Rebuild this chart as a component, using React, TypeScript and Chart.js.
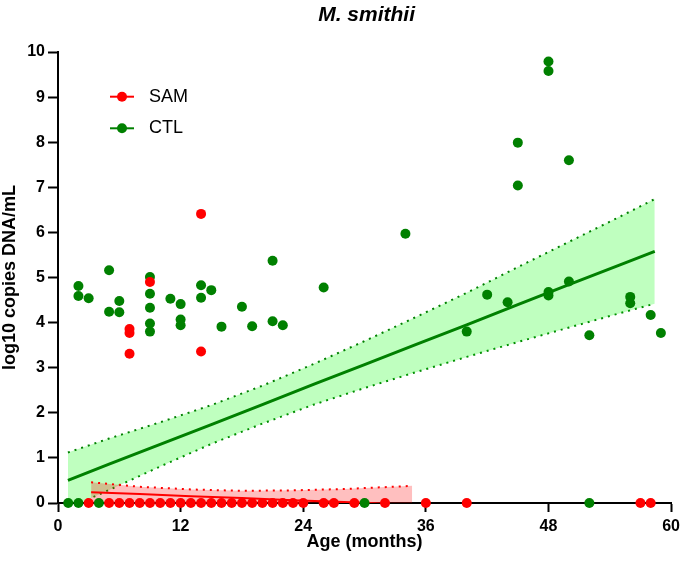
import React, { useEffect, useRef } from "react";
import { Chart, registerables } from "chart.js";

Chart.register(...registerables);

// ---- Data ----
const titleText = "M. smithii";
const xTitle = "Age (months)";
const yTitle = "log10 copies DNA/mL";
const xTicks = [0, 12, 24, 36, 48, 60];
const yTicks = [0, 1, 2, 3, 4, 5, 6, 7, 8, 9, 10];

// SAM (red) observations
const samX = [3, 5, 6, 7, 8, 9, 10, 11, 12, 13, 14, 15, 16, 17, 18, 19, 20, 21, 22, 23, 24, 26, 27, 29, 32, 36, 40, 57, 58, 7, 7, 7, 9, 14, 14];
const samY = [0, 0, 0, 0, 0, 0, 0, 0, 0, 0, 0, 0, 0, 0, 0, 0, 0, 0, 0, 0, 0, 0, 0, 0, 0, 0, 0, 0, 0, 3.86, 3.77, 3.31, 4.9, 6.41, 3.36];

// CTL (green) observations
const ctlX = [1, 2, 4, 30, 52, 2, 2, 3, 5, 5, 6, 6, 9, 9, 9, 9, 9, 11, 12, 12, 12, 14, 14, 15, 16, 18, 19, 21, 21, 22, 26, 34, 40, 42, 44, 45, 45, 48, 48, 48, 48, 50, 50, 52, 56, 56, 58, 59];
const ctlY = [0, 0, 0, 0, 0, 4.81, 4.59, 4.54, 5.16, 4.24, 4.48, 4.23, 5.01, 4.64, 4.33, 3.98, 3.8, 4.53, 4.41, 4.07, 3.94, 4.83, 4.55, 4.72, 3.91, 4.35, 3.92, 5.37, 4.03, 3.94, 4.78, 5.97, 3.8, 4.62, 4.45, 7.99, 7.04, 9.79, 9.58, 4.68, 4.6, 7.6, 4.91, 3.72, 4.57, 4.43, 4.17, 3.77];

// CTL regression line and confidence band
const ctlFitX = [0.97, 5, 10, 15, 20, 25, 30, 35, 40, 45, 50, 55, 58.4];
const ctlFitY = [0.5, 0.86, 1.3, 1.74, 2.18, 2.63, 3.07, 3.51, 3.95, 4.4, 4.84, 5.28, 5.58];
const ctlUpper = [1.12, 1.43, 1.79, 2.17, 2.6, 3.08, 3.59, 4.12, 4.66, 5.23, 5.79, 6.35, 6.74];
const ctlLower = [-0.12, 0.29, 0.81, 1.31, 1.76, 2.18, 2.55, 2.9, 3.24, 3.57, 3.89, 4.21, 4.42];

// SAM regression line and confidence band
const samFitX = [3.24, 8, 13, 18, 23, 28, 34.66];
const samFitY = [0.24, 0.2, 0.15, 0.11, 0.06, 0.02, -0.04];
const samUpper = [0.46, 0.36, 0.3, 0.27, 0.28, 0.31, 0.38];
const samLower = [0.02, 0.04, 0.0, -0.05, -0.16, -0.27, -0.46];

const legendItems = [
  { label: "SAM", color: "#ff0000" },
  { label: "CTL", color: "#008000" },
];

const FONT = '"Liberation Sans", Arial, Helvetica, sans-serif';

const pts = (xs: number[], ys: number[]) => xs.map((x, i) => ({ x, y: ys[i] }));

const textPlugin = {
  id: "customText",
  afterDraw(chart: any) {
    const { ctx, chartArea } = chart;
    const cx = (chartArea.left + chartArea.right) / 2;
    const cy = (chartArea.top + chartArea.bottom) / 2;
    ctx.save();
    ctx.fillStyle = "#000";
    ctx.textAlign = "center";
    ctx.textBaseline = "alphabetic";
    ctx.font = `italic bold 21px ${FONT}`;
    ctx.fillText(titleText, cx + 2, 21);
    ctx.font = `bold 18px ${FONT}`;
    ctx.fillText(xTitle, cx, 547);
    ctx.save();
    ctx.translate(15, cy);
    ctx.rotate(-Math.PI / 2);
    ctx.fillText(yTitle, 0, 0);
    ctx.restore();

    // legend
    const lx0 = 110, lx1 = 134, ly0 = 96.7, dy = 31.6;
    legendItems.forEach((it, i) => {
      const y = ly0 + i * dy;
      ctx.strokeStyle = it.color;
      ctx.lineWidth = 2;
      ctx.beginPath();
      ctx.moveTo(lx0, y);
      ctx.lineTo(lx1, y);
      ctx.stroke();
      ctx.fillStyle = it.color;
      ctx.beginPath();
      ctx.arc((lx0 + lx1) / 2, y, 5, 0, Math.PI * 2);
      ctx.fill();
      ctx.fillStyle = "#000";
      ctx.font = `18px ${FONT}`;
      ctx.textAlign = "left";
      ctx.textBaseline = "middle";
      ctx.fillText(it.label, 149, y);
    });
    ctx.restore();
  },
};

export default function App() {
  const ref = useRef<HTMLCanvasElement>(null);

  useEffect(() => {
    if (!ref.current) return;
    const green = "#008000";
    const red = "#ff0000";
    const chart = new Chart(ref.current, {
      type: "scatter",
      data: {
        datasets: [
          {
            type: "line",
            label: "ctlUpper",
            data: pts(ctlFitX, ctlUpper),
            borderColor: green,
            borderWidth: 2,
            borderDash: [2, 5],
            pointRadius: 0,
            fill: "+1",
            backgroundColor: "rgba(0,255,0,0.25)",
            order: 4,
            clip: 0,
          } as any,
          {
            type: "line",
            label: "ctlLower",
            data: pts(ctlFitX, ctlLower),
            borderColor: green,
            borderWidth: 2,
            borderDash: [2, 5],
            pointRadius: 0,
            fill: false,
            order: 4,
            clip: 0,
          } as any,
          {
            type: "line",
            label: "ctlFit",
            data: pts(ctlFitX, ctlFitY),
            borderColor: green,
            borderWidth: 3,
            pointRadius: 0,
            fill: false,
            order: 1,
            clip: 0,
          } as any,
          {
            type: "line",
            label: "samUpper",
            data: pts(samFitX, samUpper),
            borderColor: red,
            borderWidth: 2,
            borderDash: [2, 5],
            pointRadius: 0,
            fill: "+1",
            backgroundColor: "rgba(255,0,0,0.25)",
            order: 2,
            clip: 0,
          } as any,
          {
            type: "line",
            label: "samLower",
            data: pts(samFitX, samLower),
            borderWidth: 0,
            borderColor: "rgba(0,0,0,0)",
            pointRadius: 0,
            fill: false,
            order: 2,
            clip: 0,
          } as any,
          {
            type: "line",
            label: "samFit",
            data: pts(samFitX, samFitY),
            borderColor: red,
            borderWidth: 2,
            pointRadius: 0,
            fill: false,
            order: 1,
            clip: 0,
          } as any,
          {
            label: "SAM",
            data: pts(samX, samY),
            pointRadius: 5,
            pointBackgroundColor: red,
            pointBorderColor: red,
            pointBorderWidth: 0,
            order: 0,
            clip: false,
          } as any,
          {
            label: "CTL",
            data: pts(ctlX, ctlY),
            pointRadius: 5,
            pointBackgroundColor: green,
            pointBorderColor: green,
            pointBorderWidth: 0,
            order: 0,
            clip: false,
          } as any,
        ],
      },
      options: {
        responsive: false,
        animation: false,
        events: [],
        layout: { padding: { left: 0, right: 11, top: 52, bottom: 0 } },
        plugins: {
          legend: { display: false },
          tooltip: { enabled: false },
          title: { display: false },
        },
        scales: {
          x: {
            type: "linear",
            min: 0,
            max: 60,
            afterBuildTicks: (scale: any) => {
              scale.ticks = xTicks.map((v) => ({ value: v }));
            },
            afterFit: (scale: any) => {
              scale.height = 64;
            },
            ticks: {
              color: "#000",
              font: { family: FONT, size: 16, weight: "bold" },
              padding: 5,
              maxRotation: 0,
            },
            grid: {
              display: true,
              drawOnChartArea: false,
              drawTicks: true,
              tickLength: 9,
              tickWidth: 2,
              tickColor: "#000",
            },
            border: { display: true, color: "#000", width: 2 },
          },
          y: {
            type: "linear",
            min: 0,
            max: 10,
            afterBuildTicks: (scale: any) => {
              scale.ticks = yTicks.map((v) => ({ value: v }));
            },
            afterFit: (scale: any) => {
              scale.width = 58;
            },
            ticks: {
              color: "#000",
              font: { family: FONT, size: 16, weight: "bold" },
              padding: 3,
            },
            grid: {
              display: true,
              drawOnChartArea: false,
              drawTicks: true,
              tickLength: 10,
              tickWidth: 2,
              tickColor: "#000",
            },
            border: { display: true, color: "#000", width: 2 },
          },
        },
      } as any,
      plugins: [textPlugin],
    });
    return () => chart.destroy();
  }, []);

  return (
    <div style={{ position: "absolute", left: 0, top: 0, width: 685, height: 567, background: "#fff" }}>
      <canvas ref={ref} width={685} height={567} style={{ display: "block" }} />
    </div>
  );
}
